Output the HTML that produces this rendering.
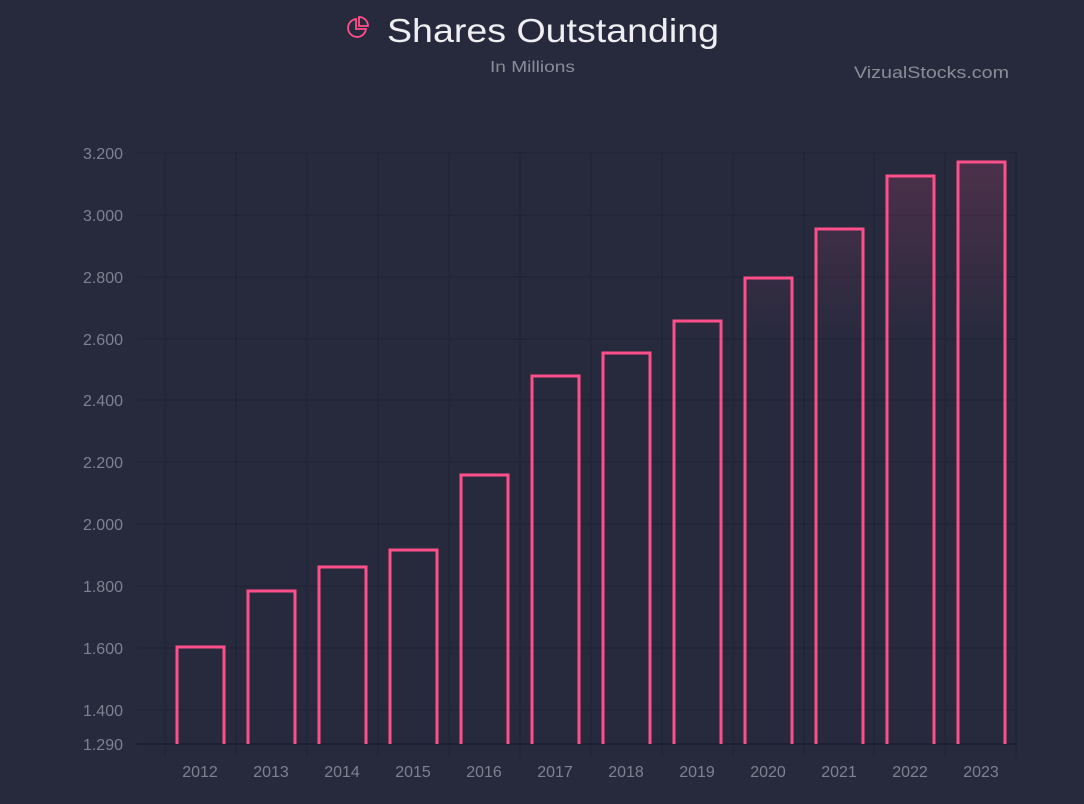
<!DOCTYPE html>
<html><head><style>
html,body{margin:0;padding:0;background:#272a3d;}
body{width:1084px;height:799px;overflow:hidden;font-family:"Liberation Sans",sans-serif;}
</style></head><body>
<svg width="1084" height="799" xmlns="http://www.w3.org/2000/svg">
<defs>
<linearGradient id="g" gradientUnits="userSpaceOnUse" x1="0" y1="153" x2="0" y2="345">
<stop offset="0" stop-color="#ff4f8b" stop-opacity="0.18"/>
<stop offset="1" stop-color="#ff4f8b" stop-opacity="0"/>
</linearGradient>
</defs>
<rect width="1084" height="799" fill="#272a3d"/>
<g fill="none" stroke="#ff4f8b" stroke-width="1.8">
<path d="M356 19 A9 9 0 1 0 366 29 L356 29 Z"/>
<path d="M359 17 A9 9 0 0 1 368 26 L359 26 Z"/>
</g>
<text x="387" y="42" fill="#eeeef3" font-size="33" textLength="332" lengthAdjust="spacingAndGlyphs">Shares Outstanding</text>
<text x="490" y="72" fill="#8a8d99" font-size="16" textLength="85" lengthAdjust="spacingAndGlyphs">In Millions</text>
<text x="854" y="78" fill="#8a8d99" font-size="17" textLength="155" lengthAdjust="spacingAndGlyphs">VizualStocks.com</text>
<g stroke="#1f2232" stroke-width="1">
<line x1="137" y1="153" x2="1016" y2="153"/>
<line x1="137" y1="215" x2="1016" y2="215"/>
<line x1="137" y1="277" x2="1016" y2="277"/>
<line x1="137" y1="339" x2="1016" y2="339"/>
<line x1="137" y1="400" x2="1016" y2="400"/>
<line x1="137" y1="462" x2="1016" y2="462"/>
<line x1="137" y1="524" x2="1016" y2="524"/>
<line x1="137" y1="586" x2="1016" y2="586"/>
<line x1="137" y1="648" x2="1016" y2="648"/>
<line x1="137" y1="710" x2="1016" y2="710"/>
<line x1="137" y1="744" x2="1016" y2="744" stroke="#1a1d2c" stroke-width="1.5"/>
</g>
<g stroke="#1f2232" stroke-width="1">
<line x1="165" y1="153" x2="165" y2="756"/><line x1="236" y1="153" x2="236" y2="756"/>
<line x1="307" y1="153" x2="307" y2="756"/><line x1="378" y1="153" x2="378" y2="756"/>
<line x1="449" y1="153" x2="449" y2="756"/><line x1="520" y1="153" x2="520" y2="756"/>
<line x1="591" y1="153" x2="591" y2="756"/><line x1="662" y1="153" x2="662" y2="756"/>
<line x1="733" y1="153" x2="733" y2="756"/><line x1="804" y1="153" x2="804" y2="756"/>
<line x1="874" y1="153" x2="874" y2="756"/><line x1="945" y1="153" x2="945" y2="756"/>
<line x1="1016" y1="153" x2="1016" y2="756"/>
</g>
<g fill="#7e8190" font-size="16" text-anchor="end">
<text x="123" y="159">3.200</text><text x="123" y="221">3.000</text>
<text x="123" y="283">2.800</text><text x="123" y="345">2.600</text>
<text x="123" y="406">2.400</text><text x="123" y="468">2.200</text>
<text x="123" y="530">2.000</text><text x="123" y="592">1.800</text>
<text x="123" y="654">1.600</text><text x="123" y="716">1.400</text>
<text x="123" y="750">1.290</text>
</g>
<g fill="#7e8190" font-size="16" text-anchor="middle">
<text x="200" y="777">2012</text><text x="271" y="777">2013</text><text x="342" y="777">2014</text>
<text x="413" y="777">2015</text><text x="484" y="777">2016</text><text x="555" y="777">2017</text>
<text x="626" y="777">2018</text><text x="697" y="777">2019</text><text x="768" y="777">2020</text>
<text x="839" y="777">2021</text><text x="910" y="777">2022</text><text x="981" y="777">2023</text>
</g>
<g fill="url(#g)" stroke="#ff4f8b" stroke-width="3">
<path d="M177 744 V647 H224 V744"/>
<path d="M248 744 V591 H295 V744"/>
<path d="M319 744 V567 H366 V744"/>
<path d="M390 744 V550 H437 V744"/>
<path d="M461 744 V475 H508 V744"/>
<path d="M532 744 V376 H579 V744"/>
<path d="M603 744 V353 H650 V744"/>
<path d="M674 744 V321 H721 V744"/>
<path d="M745 744 V278 H792 V744"/>
<path d="M816 744 V229 H863 V744"/>
<path d="M887 744 V176 H934 V744"/>
<path d="M958 744 V162 H1005 V744"/>
</g>
</svg>
</body></html>
